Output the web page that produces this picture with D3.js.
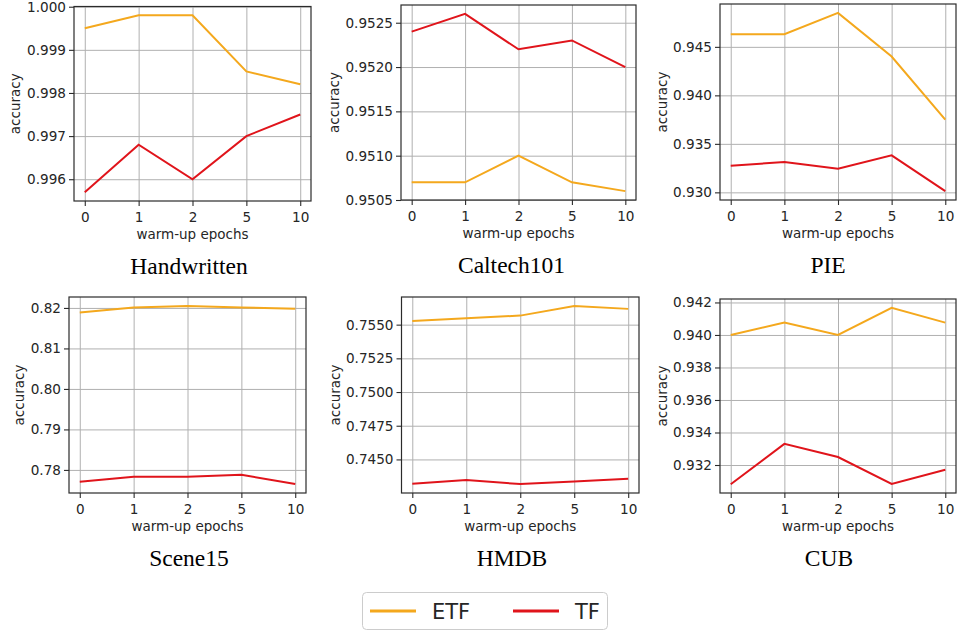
<!DOCTYPE html>
<html>
<head>
<meta charset="utf-8">
<script src="https://cdn.jsdelivr.net/npm/d3@7"></script>
<style>
  body { margin: 0; background: #fff; }
  svg { display: block; }
  text { font-family: "DejaVu Sans", sans-serif; fill: #262626; }
  .title { font-family: "Liberation Serif", "Times New Roman", serif; fill: #000; }
</style>
</head>
<body>
<svg width="958" height="632"></svg>
<script>
// warm-up epochs shown on every x axis
const epochs = ["0", "1", "2", "5", "10"];

const datasets = ["Handwritten", "Caltech101", "PIE", "Scene15", "HMDB", "CUB"];

// ETF accuracy per dataset (same order as datasets)
const etfHandwritten = [0.9995, 0.9998, 0.9998, 0.9985, 0.9982];
const etfCaltech = [0.9507, 0.9507, 0.9510, 0.9507, 0.9506];
const etfPIE = [0.9463, 0.9463, 0.9485, 0.9440, 0.9375];
const etfScene = [0.8189, 0.8201, 0.8205, 0.8201, 0.8198];
const etfHMDB = [0.75527, 0.75548, 0.75567, 0.75639, 0.75617];
const etfCUB = [0.9400, 0.94076, 0.9400, 0.94167, 0.94076];

// TF accuracy
const tfHandwritten = [0.9957, 0.9968, 0.9960, 0.9970, 0.9975];
const tfCaltech = [0.9524, 0.9526, 0.9522, 0.9523, 0.9520];
const tfPIE = [0.93275, 0.93313, 0.93244, 0.93382, 0.93013];
const tfScene = [0.7771, 0.7783, 0.7783, 0.7788, 0.7765];
const tfHMDB = [0.74319, 0.74348, 0.74317, 0.74337, 0.74357];
const tfCUB = [0.93082, 0.9333, 0.93249, 0.93084, 0.93171];

// y tick labels per panel
const ticksHandwritten = ["0.996", "0.997", "0.998", "0.999", "1.000"];
const ticksCaltech = ["0.9505", "0.9510", "0.9515", "0.9520", "0.9525"];
const ticksPIE = ["0.930", "0.935", "0.940", "0.945"];
const ticksScene = ["0.78", "0.79", "0.80", "0.81", "0.82"];
const ticksHMDB = ["0.7450", "0.7475", "0.7500", "0.7525", "0.7550"];
const ticksCUB = ["0.932", "0.934", "0.936", "0.938", "0.940", "0.942"];

const etfAll = [etfHandwritten, etfCaltech, etfPIE, etfScene, etfHMDB, etfCUB];
const tfAll = [tfHandwritten, tfCaltech, tfPIE, tfScene, tfHMDB, tfCUB];
const tickAll = [ticksHandwritten, ticksCaltech, ticksPIE, ticksScene, ticksHMDB, ticksCUB];

const seriesNames = ["ETF", "TF"];
const colors = ["#f4a81d", "#e0141b"];

// panel boxes [left, top, right, bottom], y-label x, title center x
const boxes = [
  [74, 6.5, 311, 201, 15.5, 189],
  [401, 5, 636, 200, 334.5, 511.5],
  [720, 4, 956, 200, 662, 828],
  [69, 297, 306, 493, 19.5, 189],
  [401.5, 297, 639, 493, 335, 512],
  [720, 299, 956, 493, 662, 829]
];

var svg = d3.select("svg");

datasets.forEach(function(name, i) {
  var b = boxes[i];
  var w = b[2] - b[0], h = b[3] - b[1];
  var g = svg.append("g").attr("transform", "translate(" + b[0] + "," + b[1] + ")");

  var all = etfAll[i].concat(tfAll[i]);
  var lo = d3.min(all), hi = d3.max(all), pad = (hi - lo) * 0.05;

  var x = d3.scalePoint().domain(epochs).range([0, w]).padding(0.2);
  var y = d3.scaleLinear().domain([lo - pad, hi + pad]).range([h, 0]);
  var tv = tickAll[i].map(Number);
  var labelOf = {};
  tickAll[i].forEach(function(t) { labelOf[+t] = t; });

  // grid
  g.append("g").call(d3.axisLeft(y).tickValues(tv).tickSize(-w).tickFormat(""))
    .call(s => s.select(".domain").remove())
    .selectAll("line").attr("stroke", "#b0b0b0").attr("stroke-width", 1);
  g.append("g").attr("transform", "translate(0," + h + ")")
    .call(d3.axisBottom(x).tickSize(-h).tickFormat(""))
    .call(s => s.select(".domain").remove())
    .selectAll("line").attr("stroke", "#b0b0b0").attr("stroke-width", 1);

  // lines
  var line = d3.line().x((d, j) => x(epochs[j])).y(d => y(d));
  [etfAll[i], tfAll[i]].forEach(function(vals, k) {
    g.append("path").datum(vals).attr("d", line)
      .attr("fill", "none").attr("stroke", colors[k]).attr("stroke-width", 2);
  });

  // frame
  g.append("rect").attr("width", w).attr("height", h)
    .attr("fill", "none").attr("stroke", "#2b2b2b").attr("stroke-width", 1.2);

  // axes
  var ya = g.append("g").call(d3.axisLeft(y).tickValues(tv).tickSize(5).tickPadding(3)
    .tickFormat(d => labelOf[d]));
  var xa = g.append("g").attr("transform", "translate(0," + h + ")")
    .call(d3.axisBottom(x).tickSize(5).tickPadding(6.5));
  [ya, xa].forEach(function(a) {
    a.select(".domain").remove();
    a.selectAll("line").attr("stroke", "#2b2b2b").attr("stroke-width", 1.1);
    a.selectAll("text").attr("font-size", 13.6).attr("font-family", "DejaVu Sans").attr("fill", "#262626");
  });

  g.append("text").attr("x", w / 2).attr("y", h + 38)
    .attr("text-anchor", "middle").attr("font-size", 13.5).text("warm-up epochs");
  svg.append("text")
    .attr("transform", "translate(" + b[4] + "," + (b[1] + h / 2) + ") rotate(-90)")
    .attr("text-anchor", "middle").attr("dy", "0.35em").attr("font-size", 13.5).text("accuracy");

  svg.append("text").attr("class", "title").attr("x", b[5]).attr("y", b[3] + 72.5)
    .attr("text-anchor", "middle").attr("font-size", 23.5).text(name);
});

// legend
var lg = svg.append("g");
lg.append("rect").attr("x", 362.5).attr("y", 592.5).attr("width", 245).attr("height", 37)
  .attr("rx", 4).attr("fill", "#fff").attr("stroke", "#cccccc");
var legX = [370, 513];
seriesNames.forEach(function(n, k) {
  lg.append("line").attr("x1", legX[k]).attr("x2", legX[k] + 46).attr("y1", 611).attr("y2", 611)
    .attr("stroke", colors[k]).attr("stroke-width", 3);
  lg.append("text").attr("x", legX[k] + 62).attr("y", 618.5).attr("font-size", 21)
    .attr("fill", "#000").text(n);
});
</script>
</body>
</html>
